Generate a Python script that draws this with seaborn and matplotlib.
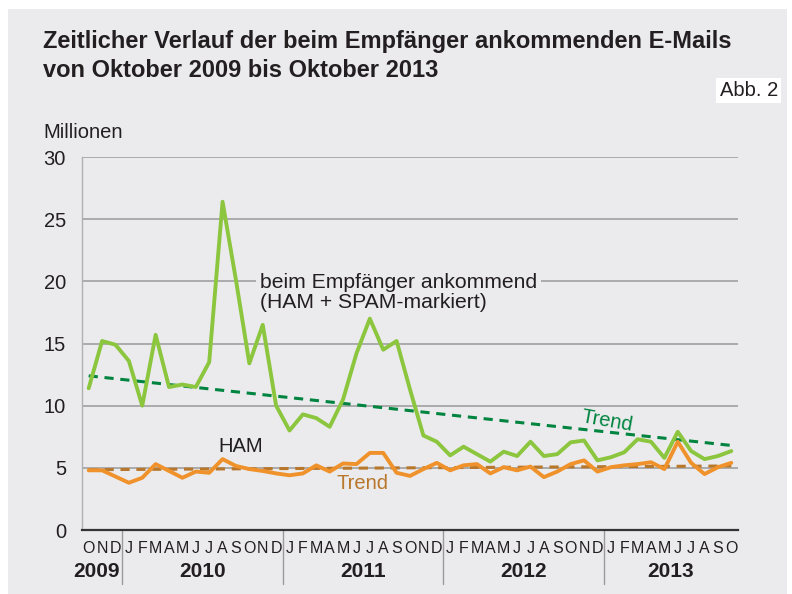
import matplotlib
matplotlib.use("Agg")
import matplotlib.pyplot as plt
import matplotlib.transforms as mtransforms
from matplotlib.patches import Rectangle
import numpy as np
import pandas as pd
import seaborn as sns

# ── Data (Oct 2009 – Oct 2013, monthly, millions) ─────────────────────────────
MONTH_LETTERS = (["O", "N", "D"]
                 + ["J", "F", "M", "A", "M", "J", "J", "A", "S", "O", "N", "D"] * 3
                 + ["J", "F", "M", "A", "M", "J", "J", "A", "S", "O"])
YEARS = ["2009", "2010", "2011", "2012", "2013"]
YEAR_CENTERS = [2.8, 9, 21, 33, 44]        # month positions of the year labels
YEAR_BREAKS = [3, 15, 27, 39]               # January boundaries

total = [11.4, 15.2, 14.9, 13.6, 10.0, 15.7, 11.5, 11.7, 11.5, 13.5,
         26.4, 20.1, 13.4, 16.5, 10.0, 8.0, 9.3, 9.0, 8.3, 10.5,
         14.2, 17.0, 14.5, 15.2, 11.3, 7.6, 7.1, 6.0, 6.7, 6.1,
         5.5, 6.3, 5.95, 7.1, 5.95, 6.1, 7.05, 7.2, 5.6, 5.85,
         6.25, 7.3, 7.1, 5.8, 7.9, 6.35, 5.7, 5.95, 6.35]
ham = [4.8, 4.8, 4.3, 3.8, 4.2, 5.3, 4.75, 4.2, 4.7, 4.6,
       5.7, 5.15, 4.9, 4.75, 4.55, 4.4, 4.55, 5.2, 4.7, 5.35,
       5.3, 6.2, 6.2, 4.6, 4.35, 4.9, 5.4, 4.8, 5.2, 5.3,
       4.55, 5.05, 4.8, 5.1, 4.25, 4.7, 5.3, 5.6, 4.7, 5.05,
       5.2, 5.3, 5.45, 4.9, 7.1, 5.4, 4.5, 5.05, 5.4]
trend_total = [12.4, 6.8]   # start / end of the linear trend
trend_ham = [4.85, 5.15]

BG = "#ebebed"
TXT = "#231f20"
GREEN = "#8cc63f"
ORANGE = "#f0922b"
DARK_GREEN = "#00843f"
BROWN = "#b8772b"

sns.set_style("white")
plt.rcParams["font.family"] = ["Liberation Sans", "DejaVu Sans"]

months = np.arange(len(total)) + 0.5
df = pd.DataFrame({"month": months, "total": total, "ham": ham})
trend_x = [months[0], months[-1]]

fig = plt.figure(figsize=(7.92, 5.94), dpi=100, facecolor="white")
fig.patches.append(Rectangle((8 / 792, 0), 779 / 792, 585 / 594,
                             transform=fig.transFigure, facecolor=BG,
                             edgecolor="none", zorder=-10))
ax = fig.add_axes([82 / 792, 64 / 594, 656 / 792, 373 / 594])
ax.set_facecolor(BG)

# grid
for v in range(5, 31, 5):
    ax.axhline(v, color="#9a9a9a", lw=1.1, zorder=1)

sns.lineplot(x=trend_x, y=trend_ham, ax=ax, color=BROWN, lw=2.2,
             linestyle=(0, (3, 2.2)), zorder=3)
sns.lineplot(x=trend_x, y=trend_total, ax=ax, color=DARK_GREEN, lw=2.2,
             linestyle=(0, (3, 2.2)), zorder=3)
sns.lineplot(data=df, x="month", y="ham", ax=ax, color=ORANGE, lw=2.8, zorder=4)
sns.lineplot(data=df, x="month", y="total", ax=ax, color=GREEN, lw=2.8, zorder=5)

ax.set_xlim(0, len(total))
ax.set_ylim(0, 30)
ax.set_xlabel("")
ax.set_ylabel("")

# y axis
ax.set_yticks(range(0, 31, 5))
ax.tick_params(axis="y", length=6.5, width=1, color="#9a9a9a", labelsize=14.5,
               pad=5, labelcolor=TXT)
for s in ["top", "right"]:
    ax.spines[s].set_visible(False)
ax.spines["left"].set_color("#b0b0b0")
ax.spines["left"].set_linewidth(1.0)
ax.spines["bottom"].set_color("#333333")
ax.spines["bottom"].set_linewidth(1.6)

# x axis: month letters centred, boundary ticks
ax.set_xticks(months)
ax.set_xticklabels(MONTH_LETTERS)
ax.tick_params(axis="x", which="major", length=0, labelsize=11.5, pad=8,
               labelcolor=TXT)
ax.set_xticks(np.arange(0, len(total) + 1), minor=True)
ax.tick_params(axis="x", which="minor", length=5, width=0.8, color="#555555")

trans = mtransforms.blended_transform_factory(ax.transData, ax.transAxes)
for xb in YEAR_BREAKS:
    ax.plot([xb, xb], [0, -0.145], transform=trans, color="#9a9a9a",
            lw=1.0, clip_on=False)
for yr, xc in zip(YEARS, YEAR_CENTERS):
    ax.text(xc, -0.112, yr, transform=trans, ha="right" if yr == "2009" else "center",
            va="center", fontsize=15, fontweight="bold", color=TXT)

# annotations
ax.text(13.3, 19.45, "beim Empfänger ankommend", fontsize=15.2, color=TXT,
        va="baseline", ha="left",
        bbox=dict(facecolor=BG, edgecolor="none", pad=3), zorder=6)
ax.text(13.3, 17.85, "(HAM + SPAM-markiert)", fontsize=15.2, color=TXT,
        va="baseline", ha="left", zorder=6)
ax.text(10.2, 6.3, "HAM", fontsize=14.5, color=TXT, zorder=6)
ax.text(19.0, 3.3, "Trend", fontsize=14.5, color=BROWN, zorder=6)
ax.text(37.2, 8.0, "Trend", fontsize=14.5, color=DARK_GREEN, rotation=-10,
        zorder=6)

# titles
fig.text(43 / 792, 1 - 48 / 594,
         "Zeitlicher Verlauf der beim Empfänger ankommenden E-Mails",
         fontsize=17, fontweight="bold", color=TXT, va="baseline", ha="left")
fig.text(43 / 792, 1 - 77 / 594, "von Oktober 2009 bis Oktober 2013",
         fontsize=17, fontweight="bold", color=TXT, va="baseline", ha="left")
fig.text(43 / 792, 1 - 138 / 594, "Millionen", fontsize=14.5, color=TXT,
         va="baseline", ha="left")
fig.text(778 / 792, 1 - 96 / 594, "Abb. 2", fontsize=14.5, color=TXT,
         va="baseline", ha="right",
         bbox=dict(facecolor="white", edgecolor="none", pad=2.5))

fig.savefig("out.png", dpi=100, facecolor="white")
